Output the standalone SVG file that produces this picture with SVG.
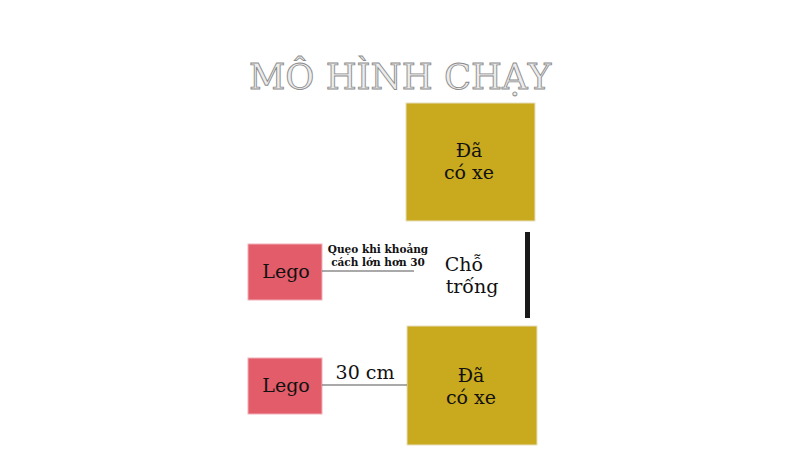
<svg xmlns="http://www.w3.org/2000/svg" width="800" height="450" viewBox="0 0 800 450">
<style>
.gold{fill:#C9A91E;stroke:#e8e0c0;stroke-width:1}
.lego{fill:#E25C69;stroke:#f0b0b8;stroke-width:1}
.t{font-family:"DejaVu Serif","Liberation Serif",serif;fill:#111;text-anchor:middle}
.conn{stroke:#555;stroke-width:1.2}
</style>
<rect width="800" height="450" fill="#fff"/>
<text x="400" y="89" font-family="DejaVu Serif,Liberation Serif,serif" font-size="35.5" text-anchor="middle" fill="#ececec" stroke="#8c8c8c" stroke-width="0.9">MÔ HÌNH CHẠY</text>
<g id="car-top">
<rect class="gold" x="406" y="103" width="129" height="118"/>
<text class="t" x="469" y="157" font-size="19">Đã</text>
<text class="t" x="469" y="179" font-size="19">có xe</text>
</g>
<g id="car-bottom">
<rect class="gold" x="407" y="326" width="130" height="119"/>
<text class="t" x="471" y="382" font-size="19">Đã</text>
<text class="t" x="471" y="404" font-size="19">có xe</text>
</g>
<g id="lego-1">
<rect class="lego" x="248" y="244" width="74" height="56"/>
<text class="t" x="286" y="278" font-size="19">Lego</text>
</g>
<g id="lego-2">
<rect class="lego" x="248" y="358" width="74" height="56"/>
<text class="t" x="286" y="392" font-size="19">Lego</text>
</g>
<g id="gap">
<text class="t" x="464" y="271" font-size="19">Chỗ</text>
<text class="t" x="472" y="293" font-size="19">trống</text>
</g>
<g id="wall">
<rect x="525" y="232" width="5" height="86" fill="#1a1a1a"/>
</g>
<g id="connectors">
<line class="conn" x1="322" y1="271" x2="414" y2="271"/>
<line class="conn" x1="322" y1="385" x2="407" y2="385"/>
<text class="t" x="378" y="253" font-size="10.5" font-weight="bold">Quẹo khi khoảng</text>
<text class="t" x="378" y="266" font-size="10.5" font-weight="bold">cách lớn hơn 30</text>
<text class="t" x="365" y="379" font-size="19">30 cm</text>
</g>
</svg>
